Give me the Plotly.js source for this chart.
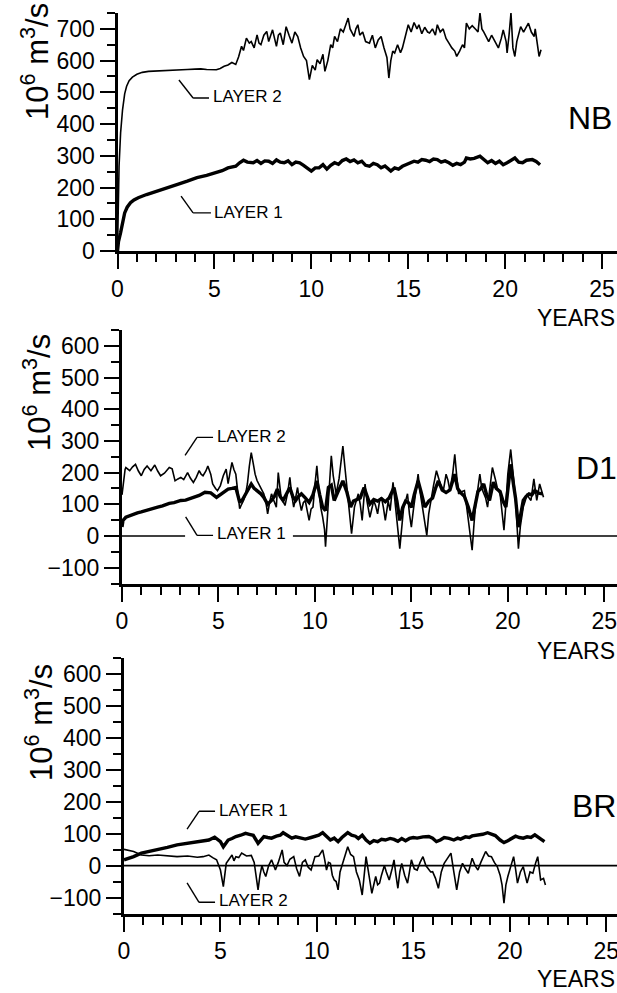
<!DOCTYPE html>
<html><head><meta charset="utf-8">
<script src="https://cdn.plot.ly/plotly-3.0.1.min.js"></script>
<style>html,body{margin:0;padding:0;background:#fff}#c{width:617px;height:993px}</style>
</head><body><div id="c"></div>
<script>
// ---- NB panel ----
const nbL2x=[0,0.03,0.08,0.16,0.26,0.37,0.47,0.6,0.77,1.0,1.28,1.6,2.1,2.6,3.1,3.6,4.0,4.3,4.6,5.1,5.3,5.5,5.7,5.9,6.1,6.25,6.4,6.5,6.65,6.8,6.9,7.05,7.2,7.3,7.4,7.55,7.7,7.8,8.0,8.1,8.2,8.3,8.4,8.55,8.7,8.85,9.0,9.15,9.3,9.45,9.6,9.75,9.9,10.05,10.2,10.3,10.45,10.6,10.7,10.85,11.0,11.1,11.2,11.35,11.5,11.65,11.8,11.9,12.0,12.2,12.3,12.4,12.5,12.65,12.8,13.0,13.15,13.3,13.45,13.6,13.75,13.9,14.0,14.1,14.2,14.3,14.45,14.6,14.7,14.85,15.0,15.15,15.3,15.45,15.55,15.7,15.85,16.0,16.1,16.25,16.4,16.5,16.65,16.8,16.95,17.1,17.25,17.4,17.5,17.65,17.8,17.9,18.0,18.15,18.3,18.5,18.6,18.7,18.8,18.9,19.0,19.15,19.3,19.5,19.65,19.8,19.9,20.05,20.1,20.2,20.3,20.4,20.5,20.6,20.8,20.95,21.1,21.2,21.35,21.5,21.55,21.65,21.75,21.85];
const nbL2y=[0,150,267,372,445,495,519,537,548,557,563,566,568,569,571,572,573,574,572,571,575,582,586,594,588,612,645,632,671,655,660,640,681,655,650,680,692,660,697,670,645,680,687,650,707,680,655,690,676,640,613,600,540,585,570,603,590,620,566,600,650,640,676,660,700,690,715,734,700,676,700,713,680,690,660,655,680,640,665,676,640,610,545,600,630,624,650,625,640,680,713,690,720,700,713,685,705,690,687,700,680,713,690,700,670,655,640,630,613,630,650,640,718,700,710,697,690,750,700,690,676,660,680,655,640,670,697,660,624,680,750,640,613,660,707,690,710,718,690,676,700,660,613,634];
const nbL1x=[0,0.05,0.16,0.26,0.37,0.5,0.67,0.85,1.07,1.5,2.1,2.6,3.1,3.6,4.1,4.6,5.1,5.4,5.7,6.1,6.3,6.5,6.7,7.0,7.2,7.4,7.6,7.8,8.0,8.2,8.4,8.6,8.8,9.0,9.2,9.4,9.6,9.8,10.0,10.2,10.4,10.6,10.8,11.0,11.2,11.4,11.6,11.8,12.0,12.2,12.4,12.6,12.8,13.0,13.2,13.4,13.6,13.8,14.1,14.3,14.5,14.7,14.9,15.1,15.3,15.5,15.7,15.9,16.1,16.3,16.5,16.7,16.9,17.1,17.3,17.5,17.7,17.9,18.0,18.2,18.4,18.7,18.9,19.1,19.3,19.5,19.7,19.9,20.1,20.3,20.5,20.7,20.9,21.1,21.4,21.6,21.8];
const nbL1y=[0,30,58,95,120,138,152,161,168,178,189,199,210,220,231,238,246,253,262,267,278,286,280,278,285,276,284,283,276,287,280,278,284,272,280,278,270,262,252,262,262,272,258,270,278,273,285,290,282,287,278,283,270,267,276,272,262,268,252,262,258,267,272,278,283,280,288,286,282,290,288,280,284,278,270,276,272,280,293,290,292,299,288,278,285,276,283,272,278,285,293,280,278,286,288,282,272];
// ---- D1 panel ----
const d1L2x=[0,0.08,0.16,0.2,0.4,0.55,0.7,0.85,1.0,1.15,1.3,1.5,1.7,1.85,2.0,2.2,2.45,2.6,2.75,2.9,3.05,3.2,3.4,3.55,3.7,3.85,4.0,4.1,4.2,4.35,4.45,4.6,4.7,4.85,4.95,5.1,5.25,5.4,5.5,5.6,5.7,5.8,5.9,6.0,6.1,6.2,6.3,6.4,6.5,6.6,6.7,6.8,6.9,7.0,7.1,7.2,7.35,7.45,7.55,7.65,7.75,7.85,8.0,8.1,8.25,8.35,8.45,8.6,8.7,8.8,8.9,9.0,9.1,9.2,9.3,9.4,9.5,9.6,9.7,9.8,9.9,10.0,10.1,10.2,10.3,10.4,10.5,10.55,10.65,10.75,10.85,10.95,11.1,11.25,11.35,11.45,11.55,11.65,11.75,11.9,12.05,12.15,12.25,12.35,12.45,12.6,12.7,12.85,12.95,13.05,13.15,13.25,13.35,13.45,13.55,13.65,13.8,13.9,14.05,14.2,14.3,14.4,14.5,14.6,14.7,14.8,14.9,15.0,15.1,15.2,15.35,15.45,15.6,15.7,15.8,15.9,16.0,16.15,16.3,16.4,16.5,16.65,16.8,16.9,17.0,17.15,17.25,17.35,17.45,17.6,17.75,17.85,17.95,18.05,18.15,18.25,18.35,18.45,18.55,18.65,18.75,18.85,18.95,19.05,19.2,19.35,19.45,19.6,19.7,19.8,19.9,20.0,20.15,20.3,20.4,20.45,20.55,20.65,20.8,20.9,21.0,21.1,21.2,21.35,21.45,21.5,21.65,21.75,21.85];
const d1L2y=[130,180,210,216,206,218,226,205,190,210,221,206,224,205,190,198,216,212,174,180,185,178,200,182,169,185,206,195,190,205,221,195,164,150,143,159,190,211,165,200,232,210,195,140,86,100,112,130,164,220,263,230,195,175,164,150,133,110,70,105,133,115,91,200,120,110,96,140,185,130,91,120,153,110,80,105,112,80,49,85,91,160,221,150,91,60,20,-34,70,160,253,190,133,180,240,284,220,153,90,7,91,110,133,100,49,164,110,59,90,112,95,70,110,122,90,49,110,80,169,90,20,-40,20,90,110,133,70,28,80,120,195,140,80,40,2,70,112,160,206,180,164,140,195,175,143,200,258,190,133,140,143,100,49,10,-45,40,112,150,195,150,133,120,91,150,216,180,153,133,80,18,100,195,273,185,120,60,-40,30,91,110,133,120,112,180,130,112,164,140,122];
const d1L1x=[0,0.05,0.2,0.4,0.6,0.8,1.0,1.2,1.4,1.6,1.85,2.1,2.45,2.7,3.05,3.3,3.7,4.0,4.3,4.6,4.9,5.2,5.5,5.7,5.9,6.0,6.1,6.25,6.4,6.55,6.7,6.85,7.0,7.2,7.35,7.55,7.75,7.9,8.05,8.2,8.35,8.5,8.7,8.85,9.0,9.15,9.3,9.5,9.7,9.9,10.1,10.25,10.4,10.55,10.7,10.85,11.0,11.2,11.45,11.65,11.85,12.0,12.15,12.35,12.55,12.7,12.85,13.05,13.25,13.45,13.65,13.85,14.1,14.25,14.4,14.55,14.7,14.85,15.0,15.15,15.35,15.5,15.7,15.9,16.1,16.25,16.4,16.6,16.8,17.0,17.25,17.4,17.55,17.75,17.95,18.15,18.3,18.45,18.6,18.75,18.9,19.05,19.25,19.4,19.6,19.75,19.9,20.05,20.15,20.3,20.4,20.55,20.7,20.8,20.95,21.1,21.25,21.4,21.6,21.8];
const d1L1y=[28,49,59,64,70,73,76,80,82,88,91,95,103,105,112,113,122,128,138,136,122,135,148,150,153,130,106,115,133,150,164,150,143,133,122,100,112,125,148,125,112,130,153,125,112,125,133,120,106,130,174,130,91,80,153,160,112,140,174,140,91,110,115,120,153,125,101,115,110,118,108,120,153,110,49,90,110,105,90,130,174,140,91,110,120,150,174,145,137,145,195,150,137,125,91,49,90,140,150,164,130,112,170,150,140,110,91,160,226,160,120,28,80,112,125,133,130,143,135,133];
// ---- BR panel ----
const brL1x=[0,0.5,0.9,1.3,1.75,2.25,2.75,3.3,3.8,4.1,4.4,4.7,5.0,5.15,5.3,5.4,5.6,5.8,6.05,6.3,6.5,6.7,6.95,7.1,7.25,7.45,7.65,7.9,8.1,8.25,8.45,8.7,8.9,9.1,9.4,9.7,9.9,10.1,10.3,10.5,10.7,10.9,11.1,11.3,11.6,11.8,12.0,12.15,12.35,12.55,12.75,12.95,13.15,13.35,13.55,13.8,14.0,14.2,14.4,14.6,14.8,15.0,15.2,15.5,15.8,16.0,16.2,16.4,16.6,16.85,17.1,17.3,17.45,17.7,17.9,18.05,18.3,18.6,18.85,19.05,19.25,19.5,19.7,19.9,20.1,20.3,20.5,20.7,20.9,21.1,21.3,21.55,21.8];
const brL1y=[18,28,39,44,49,57,65,70,75,77,80,89,75,59,70,80,85,91,95,101,98,95,70,82,91,88,86,92,95,103,95,86,90,88,83,88,92,95,103,92,80,86,75,88,103,95,92,85,95,80,70,78,75,82,80,85,82,76,85,78,85,88,86,90,91,86,75,80,88,85,80,86,83,90,88,93,95,98,103,98,94,80,72,78,85,92,88,86,90,88,96,85,75];
const brL2x=[0,0.5,0.9,1.3,1.75,2.25,2.75,3.3,3.8,4.1,4.4,4.6,4.8,5.0,5.15,5.3,5.45,5.6,5.7,5.8,5.95,6.1,6.35,6.6,6.75,6.95,7.05,7.15,7.25,7.35,7.5,7.65,7.85,8.0,8.2,8.3,8.45,8.6,8.8,8.95,9.1,9.25,9.4,9.55,9.7,9.8,9.9,10.1,10.3,10.4,10.5,10.6,10.7,10.8,10.9,11.0,11.1,11.2,11.3,11.45,11.6,11.75,11.9,12.05,12.2,12.35,12.45,12.55,12.7,12.85,12.95,13.05,13.15,13.25,13.35,13.5,13.6,13.75,13.9,14.0,14.1,14.2,14.3,14.4,14.55,14.7,14.8,14.9,15.05,15.2,15.35,15.5,15.65,15.8,15.9,16.0,16.15,16.3,16.45,16.6,16.75,16.95,17.1,17.25,17.4,17.55,17.7,17.85,17.95,18.05,18.2,18.35,18.5,18.75,18.9,19.05,19.2,19.35,19.5,19.6,19.7,19.8,19.9,20.05,20.2,20.3,20.4,20.55,20.7,20.8,20.9,21.05,21.2,21.35,21.45,21.6,21.75,21.85];
const brL2y=[51,44,33,31,33,30,28,30,26,28,33,25,18,-14,-66,7,20,33,15,28,25,39,30,32,10,-76,-30,0,-20,-34,0,18,-14,10,49,10,0,20,28,-10,-34,10,18,-5,-14,10,28,30,49,20,-14,10,7,-30,-45,-50,-76,-20,0,30,59,35,28,-20,-45,-92,-20,28,-30,-87,-60,-34,-60,-55,-30,0,-20,-45,-10,18,-30,-71,-20,7,-30,-55,-20,18,-10,-14,10,28,0,-14,-20,-19,-40,-71,-20,7,20,39,-20,-76,-20,7,-10,-24,0,23,0,-14,10,44,30,28,10,-3,-30,-60,-118,-60,-34,0,28,-10,-55,-20,-3,-30,-55,-20,-24,10,28,-45,-40,-61];

const panelNames=['NB','D1','BR'];
const xTickVals=[0,5,10,15,20,25];
const nbTickVals=[0,100,200,300,400,500,600,700];
const lowTickVals=[-100,0,100,200,300,400,500,600];

const FONT='Liberation Sans, Arial, Helvetica, sans-serif';
const THIN=1.6, THICK=3.4;
function line(x,y,xa,ya,w){return {type:'scatter',mode:'lines',x:x,y:y,xaxis:xa,yaxis:ya,line:{color:'#000',width:w,shape:'linear'},hoverinfo:'skip',showlegend:false};}
const data=[
 line(nbL2x,nbL2y,'x','y',THIN), line(nbL1x,nbL1y,'x','y',THICK),
 line(d1L2x,d1L2y,'x2','y2',THIN), line(d1L1x,d1L1y,'x2','y2',THICK),
 line(brL2x,brL2y,'x3','y3',THIN), line(brL1x,brL1y,'x3','y3',THICK)
];
function xax(dom,rmax,anchor){return {domain:dom,range:[0,rmax],anchor:anchor,showline:true,linewidth:3,linecolor:'#000',showgrid:false,zeroline:false,
 ticks:'outside',ticklen:15,tickwidth:2,tickcolor:'#000',tickvals:xTickVals,ticktext:xTickVals.map(String),ticklabeloverflow:'allow',
 tickfont:{family:FONT,size:23,color:'#000'},
 minor:{ticks:'outside',ticklen:8,tickwidth:2,tickcolor:'#000',dtick:1,tick0:0,showgrid:false}};}
function yax(dom,rng,tv,anchor){return {domain:dom,range:rng,anchor:anchor,showline:true,linewidth:3,linecolor:'#000',showgrid:false,zeroline:false,
 ticks:'outside',ticklen:15,tickwidth:2,tickcolor:'#000',tickvals:tv,ticktext:tv.map(v=>v<0?'\u2212'+Math.abs(v):String(v)),
 tickfont:{family:FONT,size:23,color:'#000'},
 minor:{ticks:'outside',ticklen:8,tickwidth:2,tickcolor:'#000',dtick:50,tick0:0,showgrid:false}};}
const P=py=>1-py/993;
const X=px=>px/617;
const shapes=[];
function seg(xr,yr,x0,y0,x1,y1,w){shapes.push({type:'line',xref:xr,yref:yr,x0:x0,y0:y0,x1:x1,y1:y1,line:{color:'#000',width:w||1.4},layer:'above'});}
// zero lines
seg('x2','y2',0,0,3.27,0,1.6); seg('x2','y2',8.86,0,25.66,0,1.6);
seg('x3','y3',0,0,25.56,0,1.6);
// leader lines
seg('x','y',3.17,539,3.90,482); seg('x','y',3.90,482,4.72,482);
seg('x','y',3.28,173,3.90,120); seg('x','y',3.90,120,4.82,120);
seg('x2','y2',3.27,254,3.89,311); seg('x2','y2',3.89,311,4.72,311);
seg('x2','y2',3.30,60,3.89,2); seg('x2','y2',3.89,2,4.72,2);
seg('x3','y3',3.27,114,3.89,170); seg('x3','y3',3.89,170,4.72,170);
seg('x3','y3',3.27,-54,3.89,-115); seg('x3','y3',3.89,-115,4.72,-115);

const ann=[];
function lab(xr,yr,x,y,t){ann.push({xref:xr,yref:yr,x:x,y:y,text:t,showarrow:false,xanchor:'left',yanchor:'middle',font:{family:FONT,size:17,color:'#000'}});}
lab('x','y',4.80,486,'LAYER 2'); lab('x','y',4.88,120,'LAYER 1');
lab('x2','y2',4.80,313,'LAYER 2'); lab('x2','y2',4.82,8,'LAYER 1');
lab('x3','y3',4.80,172,'LAYER 1'); lab('x3','y3',4.80,-110,'LAYER 2');
const nameY=[118,468,806], nameX=[590,596,594];
panelNames.forEach((n,i)=>ann.push({xref:'paper',yref:'paper',x:X(nameX[i]),y:P(nameY[i]),text:n,showarrow:false,xanchor:'center',yanchor:'middle',font:{family:FONT,size:32,color:'#000'}}));
[318,651,979].forEach(py=>ann.push({xref:'paper',yref:'paper',x:1,y:P(py),text:'YEARS',showarrow:false,xanchor:'right',yanchor:'middle',font:{family:FONT,size:23,color:'#000'}}));
[[35,62],[37,393],[39,722]].forEach(p=>ann.push({xref:'paper',yref:'paper',x:X(p[0]),y:P(p[1]),text:'10<sup>6</sup> m<sup>3</sup>/s',textangle:-90,showarrow:false,xanchor:'center',yanchor:'middle',font:{family:FONT,size:31,color:'#000'}}));

const layout={width:617,height:993,margin:{l:0,r:0,t:0,b:0},paper_bgcolor:'#fff',plot_bgcolor:'rgba(0,0,0,0)',showlegend:false,
 font:{family:FONT,color:'#000'},
 xaxis:xax([X(117.5),1],25.77,'y'), yaxis:yax([P(251),P(13)],[0,750],nbTickVals,'x'),
 xaxis2:xax([X(122),1],25.66,'y2'), yaxis2:yax([P(583.5),P(330)],[-150,650],lowTickVals,'x2'),
 xaxis3:xax([X(124),1],25.56,'y3'), yaxis3:yax([P(913.5),P(658)],[-150,650],lowTickVals,'x3'),
 shapes:shapes, annotations:ann};
Plotly.newPlot('c',data,layout,{staticPlot:true,displayModeBar:false});
</script></body></html>
